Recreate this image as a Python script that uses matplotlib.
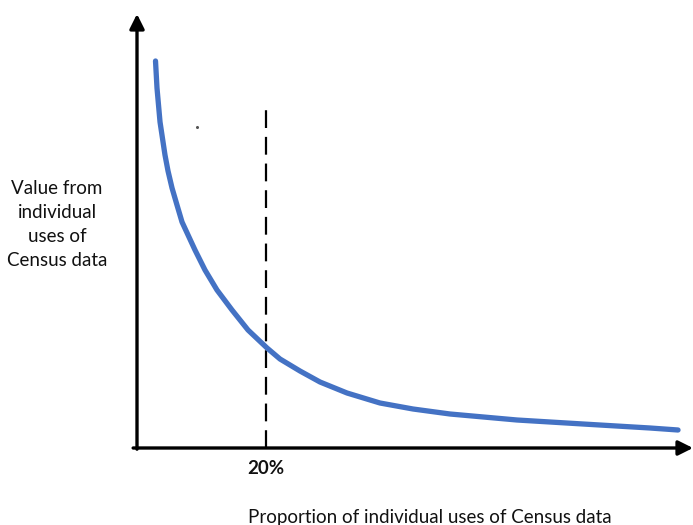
import numpy as np
import matplotlib
matplotlib.use("Agg")
import matplotlib.pyplot as plt

plt.rcParams['font.family'] = ['Lato', 'DejaVu Sans']

# curve (x in % of uses, y in arbitrary value units)
share = [2.87, 3.10, 3.57, 4.34, 4.81, 5.43, 6.20, 6.98, 8.99, 10.54,
         12.40, 14.73, 17.21, 20.16, 22.17, 25.27, 28.37, 32.56, 37.67, 42.79,
         48.53, 58.91, 69.15, 79.53, 83.88]
value = [96.75, 90.0, 81.5, 73.25, 69.25, 65.0, 60.75, 56.5, 49.5, 44.5,
         39.5, 34.5, 29.5, 25.0, 22.25, 19.25, 16.5, 13.75, 11.25, 9.75,
         8.5, 7.0, 6.0, 5.0, 4.5]

cutoff = 20
cutoff_top = 85
x_end = 86.2
y_end = 108.5

y_label = "Value from\nindividual\nuses of\nCensus data"
x_label = "Proportion of individual uses of Census data"
cutoff_label = "20%"

fig = plt.figure(figsize=(6.93, 5.25), dpi=100)
ax = fig.add_axes([0, 0, 1, 1])
ax.set_xlim(-137 / 6.45, (693 - 137) / 6.45)
ax.set_ylim(-77 / 4, 448 / 4)
ax.axis("off")

# axes with arrows
ax.annotate("", xy=(0, y_end), xytext=(0, -0.3),
            arrowprops=dict(arrowstyle="-|>", lw=2.4, color="black",
                            mutation_scale=22, shrinkA=0, shrinkB=0))
ax.annotate("", xy=(x_end, 0), xytext=(-0.6, 0),
            arrowprops=dict(arrowstyle="-|>", lw=2.4, color="black",
                            mutation_scale=22, shrinkA=0, shrinkB=0))

# dashed cutoff line
ax.plot([cutoff, cutoff], [0, cutoff_top], color="black", lw=1.6,
        linestyle=(0, (8.0, 4.0)))

# curve
ax.plot(share, value, color="#4472C4", lw=3.8, solid_capstyle="round",
        solid_joinstyle="round")

# stray dot
ax.plot([9.3], [80.2], marker="o", ms=1.2, color="#555555")

ax.text(-12.4, 55.8, y_label, ha="center", va="center", fontsize=13.5,
        linespacing=1.5, color="#111111")
ax.text(cutoff, -5.2, cutoff_label, ha="center", va="center", fontsize=13.5,
        fontweight="bold", color="#111111")
ax.text(45.4, -17.3, x_label, ha="center", va="center", fontsize=13.5,
        color="#111111")

fig.savefig("out.png", dpi=100)
